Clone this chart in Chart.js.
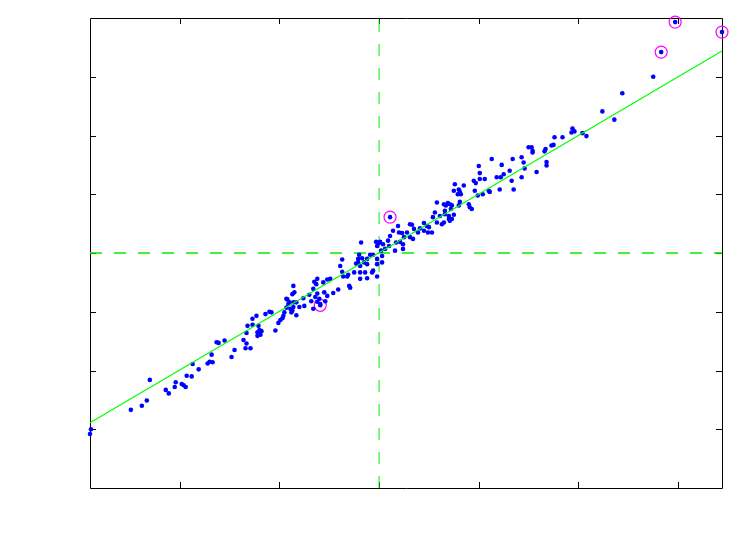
<!DOCTYPE html>
<html>
<head>
<meta charset="utf-8">
<script src="https://cdn.jsdelivr.net/npm/chart.js@4"></script>
<style>
html,body{margin:0;padding:0;background:#fff;}
#wrap{width:738px;height:552px;position:relative;}
</style>
</head>
<body>
<div id="wrap"><canvas id="c" width="738" height="552"></canvas></div>
<script>
// Sample points (x, y)
const xValues = [
-2.89,-2.90,-2.49,-2.38,-2.33,-2.30,-2.14,-2.11,-2.05,-2.04,-1.98,-1.96,-1.94,-1.93,-1.88,-1.87,-1.81,
-1.72,-1.70,-1.67,-1.68,-1.48,-1.45,-1.63,-1.61,-1.55,-1.36,-1.33,-1.34,-1.29,-1.33,-1.32,-1.27,-1.27,-1.23,-1.21,-1.22,-1.22,-1.20,-1.18,-1.19,-1.14,-1.10,-1.08,-1.04,-1.01,-0.99,-0.97,-0.95,-0.93,-0.91,-0.92,-0.88,-0.86,-0.86,
-0.96,-0.93,-0.90,-0.86,-0.87,-0.85,-0.89,-0.87,-0.83,-0.83,-0.80,-0.75,-0.76,-0.70,-0.68,-0.66,-0.65,-0.64,-0.63,-0.62,-0.62,-0.66,-0.62,-0.60,-0.59,-0.56,-0.55,-0.54,-0.52,-0.52,-0.49,-0.46,-0.41,-0.39,-0.37,-0.36,-0.37,-0.32,-0.30,-0.29,-0.31,-0.25,-0.21,-0.21,-0.23,-0.18,-0.20,-0.19,-0.19,-0.15,-0.14,-0.12,-0.09,-0.12,-0.07,-0.02,-0.02,-0.02,0.00,
-0.17,-0.19,-0.12,-0.06,-0.06,-0.02,-0.03,0.01,0.02,0.03,0.03,0.04,0.06,0.09,0.10,0.11,0.14,0.16,0.17,0.19,0.20,0.23,0.21,0.24,0.25,0.24,0.28,0.31,0.33,0.35,0.31,0.34,0.39,0.41,0.45,0.45,0.48,0.50,0.49,0.53,0.54,0.56,0.58,0.58,0.61,0.63,0.65,0.66,0.67,0.70,0.71,0.73,0.72,0.75,0.80,
0.65,0.66,0.69,0.70,0.71,0.73,0.75,0.76,0.79,0.80,0.81,0.82,0.81,0.85,0.90,0.91,0.93,0.96,0.95,0.97,0.99,1.00,1.01,1.01,1.04,1.06,1.10,1.11,1.13,1.18,1.22,1.23,1.21,1.25,1.31,1.33,1.34,1.35,1.43,1.43,1.46,1.54,1.58,
1.45,1.50,1.53,1.54,1.66,1.67,1.68,1.68,1.73,1.75,1.76,1.84,1.93,1.94,1.96,2.04,2.08,2.24,2.36,
2.44,2.75,
-0.59,0.11,2.83,2.97,3.44
];
const yValues = [
-3.00,-3.08,-2.67,-2.60,-2.51,-2.16,-2.33,-2.39,-2.28,-2.20,-2.23,-2.25,-2.28,-2.09,-2.10,-1.89,-1.98,
-1.88,-1.85,-1.86,-1.73,-1.77,-1.65,-1.52,-1.53,-1.49,-1.48,-1.54,-1.62,-1.62,-1.36,-1.24,-1.12,-1.22,-1.07,-1.24,-1.35,-1.41,-1.31,-1.33,-1.39,-1.04,-1.00,-1.01,-1.32,-1.19,-1.14,-1.11,-1.01,-0.93,-0.87,-0.79,-1.01,-0.92,-0.84,
-1.07,-0.78,-0.84,-0.56,-0.70,-0.67,-0.95,-0.98,-0.84,-1.06,-0.92,-0.90,-0.77,-0.71,-0.82,-0.61,-0.49,-0.75,-0.53,-0.44,-0.69,-0.95,-0.83,-0.78,-0.87,-0.50,-0.67,-0.82,-0.45,-0.73,-0.44,-0.68,-0.62,-0.22,-0.32,-0.40,-0.11,-0.40,-0.56,-0.59,-0.37,-0.33,-0.10,-0.16,-0.18,0.18,-0.03,-0.44,-0.33,-0.16,-0.33,-0.43,-0.03,-0.19,-0.33,0.12,-0.19,-0.40,0.17,
-0.09,-0.22,-0.10,-0.03,-0.30,-0.10,0.19,0.19,0.04,-0.16,-0.05,0.15,0.07,0.21,0.12,0.29,0.38,0.04,0.18,0.46,0.35,0.34,0.19,0.15,0.27,0.07,0.35,0.49,0.48,0.41,0.27,0.24,0.35,0.42,0.51,0.38,0.46,0.44,0.35,0.35,0.61,0.69,0.52,0.86,0.63,0.49,0.52,0.66,0.81,0.58,0.83,0.58,0.75,0.65,0.81,
0.83,0.72,0.85,0.63,0.55,0.81,1.06,1.17,1.00,1.08,1.04,1.00,0.87,1.15,0.83,0.78,0.75,1.06,1.23,1.19,0.98,1.48,1.36,1.26,1.00,1.26,1.06,1.04,1.60,1.29,1.29,1.50,1.08,1.34,1.40,1.23,1.60,1.08,1.63,1.29,1.44,1.74,1.38,
1.54,1.80,1.80,1.71,1.73,1.77,1.49,1.55,1.83,1.84,1.97,1.97,2.05,2.12,2.07,2.04,1.99,2.41,2.27,
2.72,3.00,
-0.89,0.61,3.42,3.93,3.76
];
// Flagged (circled) points
const outlierX = [-0.59, 0.11, 2.83, 2.97, 3.44];
const outlierY = [-0.89, 0.61, 3.42, 3.93, 3.76];
// Fitted reference line endpoints
const fitX = [-2.90, 3.44];
const fitY = [-2.89, 3.44];
// Axis ranges and tick values (no labels shown)
const xRange = [-2.90, 3.44];
const yRange = [-4, 4];
const xTickValues = [-2, -1, 0, 1, 2, 3];
const yTickValues = [-3, -2, -1, 0, 1, 2, 3];
const refX = 0, refY = 0;

const pts = xValues.map((x, i) => ({x, y: yValues[i]}));
const outPts = outlierX.map((x, i) => ({x, y: outlierY[i]}));
const fitPts = fitX.map((x, i) => ({x, y: fitY[i]}));

const boxPlugin = {
  id: 'box',
  beforeDatasetsDraw(chart) {
    const {ctx, chartArea: a, scales: {x, y}} = chart;
    ctx.save();
    ctx.strokeStyle = '#000';
    ctx.lineWidth = 1;
    ctx.beginPath();
    ctx.rect(Math.round(a.left) + 0.5, Math.round(a.top) + 0.5, Math.round(a.right - a.left), Math.round(a.bottom - a.top));
    const L = 6;
    xTickValues.forEach(v => {
      const px = Math.round(x.getPixelForValue(v)) + 0.5;
      ctx.moveTo(px, a.bottom); ctx.lineTo(px, a.bottom - L);
      ctx.moveTo(px, a.top); ctx.lineTo(px, a.top + L);
    });
    yTickValues.forEach(v => {
      const py = Math.round(y.getPixelForValue(v)) + 0.5;
      ctx.moveTo(a.left, py); ctx.lineTo(a.left + L, py);
      ctx.moveTo(a.right, py); ctx.lineTo(a.right - L, py);
    });
    ctx.stroke();
    ctx.restore();
  }
};

new Chart(document.getElementById('c'), {
  type: 'scatter',
  data: {
    datasets: [
      {
        type: 'line', data: fitPts, borderColor: '#00ff00', borderWidth: 1.2,
        pointRadius: 0, fill: false, order: 0, clip: false
      },
      {
        type: 'line', data: [{x: refX, y: yRange[0]}, {x: refX, y: yRange[1]}],
        borderColor: '#00ee00', borderWidth: 1, borderDash: [12, 12],
        pointRadius: 0, fill: false, order: 3
      },
      {
        type: 'line', data: [{x: xRange[0], y: refY}, {x: xRange[1], y: refY}],
        borderColor: '#00ee00', borderWidth: 1.5, borderDash: [12, 12],
        pointRadius: 0, fill: false, order: 3
      },
      {
        data: pts, backgroundColor: '#0000ff', borderWidth: 0,
        pointRadius: 2.3, pointHoverRadius: 2.3, order: 1, clip: false
      },
      {
        data: outPts, backgroundColor: 'rgba(0,0,0,0)', borderColor: '#ff00ff',
        borderWidth: 1.2, pointRadius: 6, pointHoverRadius: 6, order: 2, clip: false
      }
    ]
  },
  options: {
    responsive: false,
    animation: false,
    devicePixelRatio: 1,
    layout: {padding: {left: 90, right: 16, top: 18, bottom: 64}},
    plugins: {legend: {display: false}, tooltip: {enabled: false}},
    events: [],
    scales: {
      x: {type: 'linear', min: xRange[0], max: xRange[1], display: false},
      y: {type: 'linear', min: yRange[0], max: yRange[1], display: false}
    }
  },
  plugins: [boxPlugin]
});
</script>
</body>
</html>
